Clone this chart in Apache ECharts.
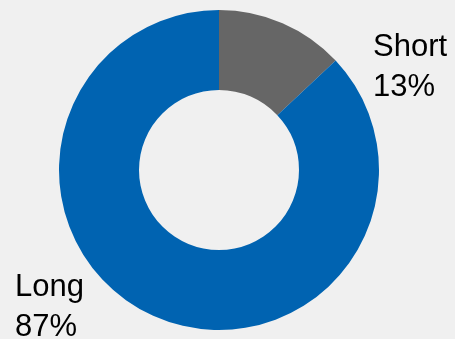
<!DOCTYPE html>
<html>
<head>
<meta charset="utf-8">
<script src="https://cdn.jsdelivr.net/npm/echarts@6/dist/echarts.min.js"></script>
<style>
html,body{margin:0;padding:0;background:#f0f0f0;}
#c{width:455px;height:339px;}
</style>
</head>
<body>
<div id="c"></div>
<script>
const categories = ['Short', 'Long'];
const values = [13, 87];
const colors = ['#666666', '#0063B1'];

const chart = echarts.init(document.getElementById('c'), null, {renderer: 'canvas'});
const labelPos = [
  {x: 373, y: 27},
  {x: 15, y: 267}
];
chart.setOption({
  backgroundColor: '#f0f0f0',
  animation: false,
  series: [{
    type: 'pie',
    center: [219, 170],
    radius: [80, 160],
    startAngle: 90,
    clockwise: true,
    data: categories.map((c, i) => ({name: c, value: values[i], itemStyle: {color: colors[i]}})),
    label: {
      show: true,
      position: 'outside',
      formatter: '{b}\n{d}%',
      color: '#000',
      fontFamily: 'Liberation Sans, Arial, sans-serif',
      fontSize: 31,
      lineHeight: 40,
      align: 'left'
    },
    labelLine: {show: false},
    labelLayout: function (params) {
      const p = labelPos[params.dataIndex];
      return {x: p.x, y: p.y, align: 'left', verticalAlign: 'top'};
    },
    emphasis: {disabled: true}
  }]
});
</script>
</body>
</html>
